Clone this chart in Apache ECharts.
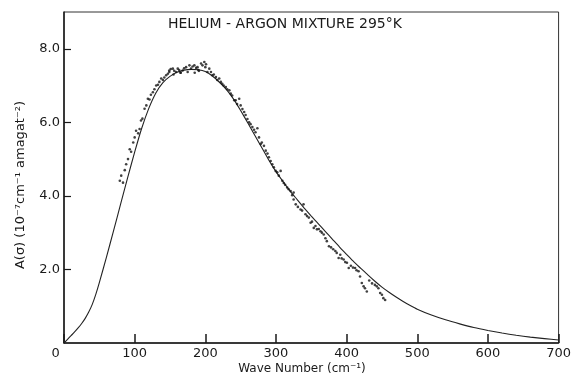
<!DOCTYPE html>
<html>
<head>
<meta charset="utf-8">
<script src="https://cdn.jsdelivr.net/npm/echarts@6/dist/echarts.min.js"></script>
<style>
html,body{margin:0;padding:0;background:#fff;}
#chart{width:574px;height:379px;}
</style>
</head>
<body>
<div id="chart"></div>
<script>
var titleText = 'HELIUM - ARGON MIXTURE 295°K';
var xName = 'Wave Number (cm⁻¹)';
var yName = 'A(σ) (10⁻⁷cm⁻¹ amagat⁻²)';
var xTicks = [0, 100, 200, 300, 400, 500, 600, 700];
var yTicks = [2, 4, 6, 8];

// theoretical curve
var curveX = [0,5,10,15,20,25,30,35,40,45,50,60,70,80,90,100,110,120,130,140,150,160,170,180,190,200,210,220,230,240,250,260,270,280,290,300,310,320,330,340,350,360,370,380,390,400,410,420,430,440,450,460,470,480,490,500,520,540,560,580,600,620,640,660,680,700];
var curveY = [0,0.1,0.2,0.3,0.41,0.53,0.67,0.84,1.05,1.32,1.64,2.33,3.04,3.77,4.49,5.19,5.84,6.38,6.8,7.08,7.25,7.36,7.42,7.44,7.43,7.38,7.26,7.09,6.89,6.63,6.32,5.99,5.65,5.31,4.97,4.66,4.39,4.13,3.9,3.67,3.45,3.24,3.03,2.82,2.61,2.41,2.21,2.03,1.85,1.68,1.52,1.38,1.25,1.13,1.02,0.92,0.76,0.63,0.52,0.42,0.34,0.27,0.21,0.16,0.12,0.08];

// measured points
var dotX = [79,81,83.5,86,88,90.6,93,95,98,100,102,105,107,109,111,114,116.5,118.7,121,123,125.8,128,130.5,133,135,137.6,140,142,144.6,147,149,149,151,154,156,158.7,161,163,165,168,170,172.8,175,177.5,179.8,182,184.5,187,189,191,194,196,198.6,200,201,203,205.6,208,210,212,215,217,219.7,222,224,226,229,231,234,236,238,241,243,245,248,250,252.5,255,257,259.6,262,264,266.6,269,271,273.7,276,278.4,280,283,285.5,288,290,292.5,294.8,297,299.6,301.8,304,306.6,309,311,313,315.9,318,320.7,323,325,325,328,331,334.8,337,339,341.8,344,346.5,349,351,353.5,355.9,358,360.6,363,365,367.6,370,372,375,378,381,384,386,388.7,391,393,395.8,398,400.5,403,406,409,412,414,416.9,419,421.5,424,426,428.6,432,436,440,442.7,445,447.5,450,452,454.5,155,165,185,190];
var dotY = [4.41,4.55,4.36,4.7,4.86,5.0,5.27,5.2,5.45,5.59,5.77,5.7,5.82,6.05,6.1,6.37,6.46,6.64,6.62,6.75,6.82,6.9,7.0,7.02,7.1,7.19,7.15,7.22,7.28,7.32,7.41,7.37,7.45,7.46,7.4,7.37,7.46,7.42,7.35,7.41,7.47,7.5,7.37,7.55,7.46,7.52,7.55,7.48,7.5,7.4,7.6,7.55,7.64,7.5,7.58,7.37,7.46,7.37,7.28,7.3,7.23,7.15,7.19,7.1,7.05,7.0,6.96,6.9,6.87,6.78,6.73,6.6,6.6,6.5,6.64,6.46,6.36,6.28,6.2,6.09,6.0,5.95,5.87,5.8,5.73,5.84,5.59,5.41,5.45,5.36,5.23,5.15,5.05,4.95,4.86,4.78,4.68,4.64,4.55,4.68,4.41,4.35,4.3,4.23,4.18,4.13,4.02,4.09,3.9,3.77,3.7,3.63,3.6,3.77,3.5,3.45,3.41,3.27,3.3,3.13,3.18,3.09,3.1,3.04,3.0,2.95,2.85,2.77,2.63,2.6,2.55,2.5,2.45,2.31,2.4,2.3,2.27,2.2,2.18,2.04,2.1,2.05,2.04,1.98,1.95,1.81,1.63,1.54,1.49,1.4,1.7,1.62,1.58,1.54,1.49,1.36,1.31,1.22,1.17,7.3,7.35,7.35,7.42];

var curveData = curveX.map(function (x, i) { return [x, curveY[i]]; });
var dotData = dotX.map(function (x, i) { return [x, dotY[i]]; });

var FONT = '"DejaVu Sans", sans-serif';
var INK = '#1a1a1a';

var chart = echarts.init(document.getElementById('chart'), null, {renderer: 'canvas'});
chart.setOption({
  animation: false,
  backgroundColor: '#fff',
  grid: {left: 64, right: 13, top: 12, bottom: 36, show: true, borderColor: '#333', borderWidth: 1},
  xAxis: {
    type: 'value', min: 0, max: 700, interval: 100,
    axisLine: {show: true, lineStyle: {color: INK, width: 1.5}},
    axisTick: {show: true, inside: true, length: 9, lineStyle: {color: INK, width: 1.5}},
    axisLabel: {
      color: INK, fontFamily: FONT, fontSize: 13, margin: 4,
      customValues: xTicks,
      alignMinLabel: 'right',
      formatter: function (v) { return v === 0 ? '0 ' : String(v); }
    },
    splitLine: {show: false}
  },
  yAxis: {
    type: 'value', min: 0, max: 9,
    axisLine: {show: true, lineStyle: {color: INK, width: 1.5}},
    axisTick: {show: true, inside: true, length: 7, customValues: yTicks, lineStyle: {color: INK, width: 1.2}},
    axisLabel: {
      color: INK, fontFamily: FONT, fontSize: 13, margin: 4,
      customValues: yTicks,
      formatter: function (v) { return v.toFixed(1); }
    },
    splitLine: {show: false}
  },
  graphic: [
    {type: 'text', left: 168, top: 17, style: {text: titleText, font: '14px ' + FONT, fill: INK}},
    {type: 'text', x: 302, y: 369, style: {text: xName, font: '12px ' + FONT, fill: INK, textAlign: 'center', textVerticalAlign: 'middle'}},
    {type: 'text', x: 21, y: 185, rotation: Math.PI / 2, style: {text: yName, font: '13px ' + FONT, fill: INK, textAlign: 'center', textVerticalAlign: 'middle'}}
  ],
  series: [
    {
      type: 'line', data: curveData, smooth: 0.2, showSymbol: false,
      lineStyle: {color: '#222', width: 1.1}, z: 2
    },
    {
      type: 'scatter', data: dotData, symbol: 'circle', symbolSize: 2.6,
      itemStyle: {color: '#111'}, z: 3
    }
  ]
});
</script>
</body>
</html>
